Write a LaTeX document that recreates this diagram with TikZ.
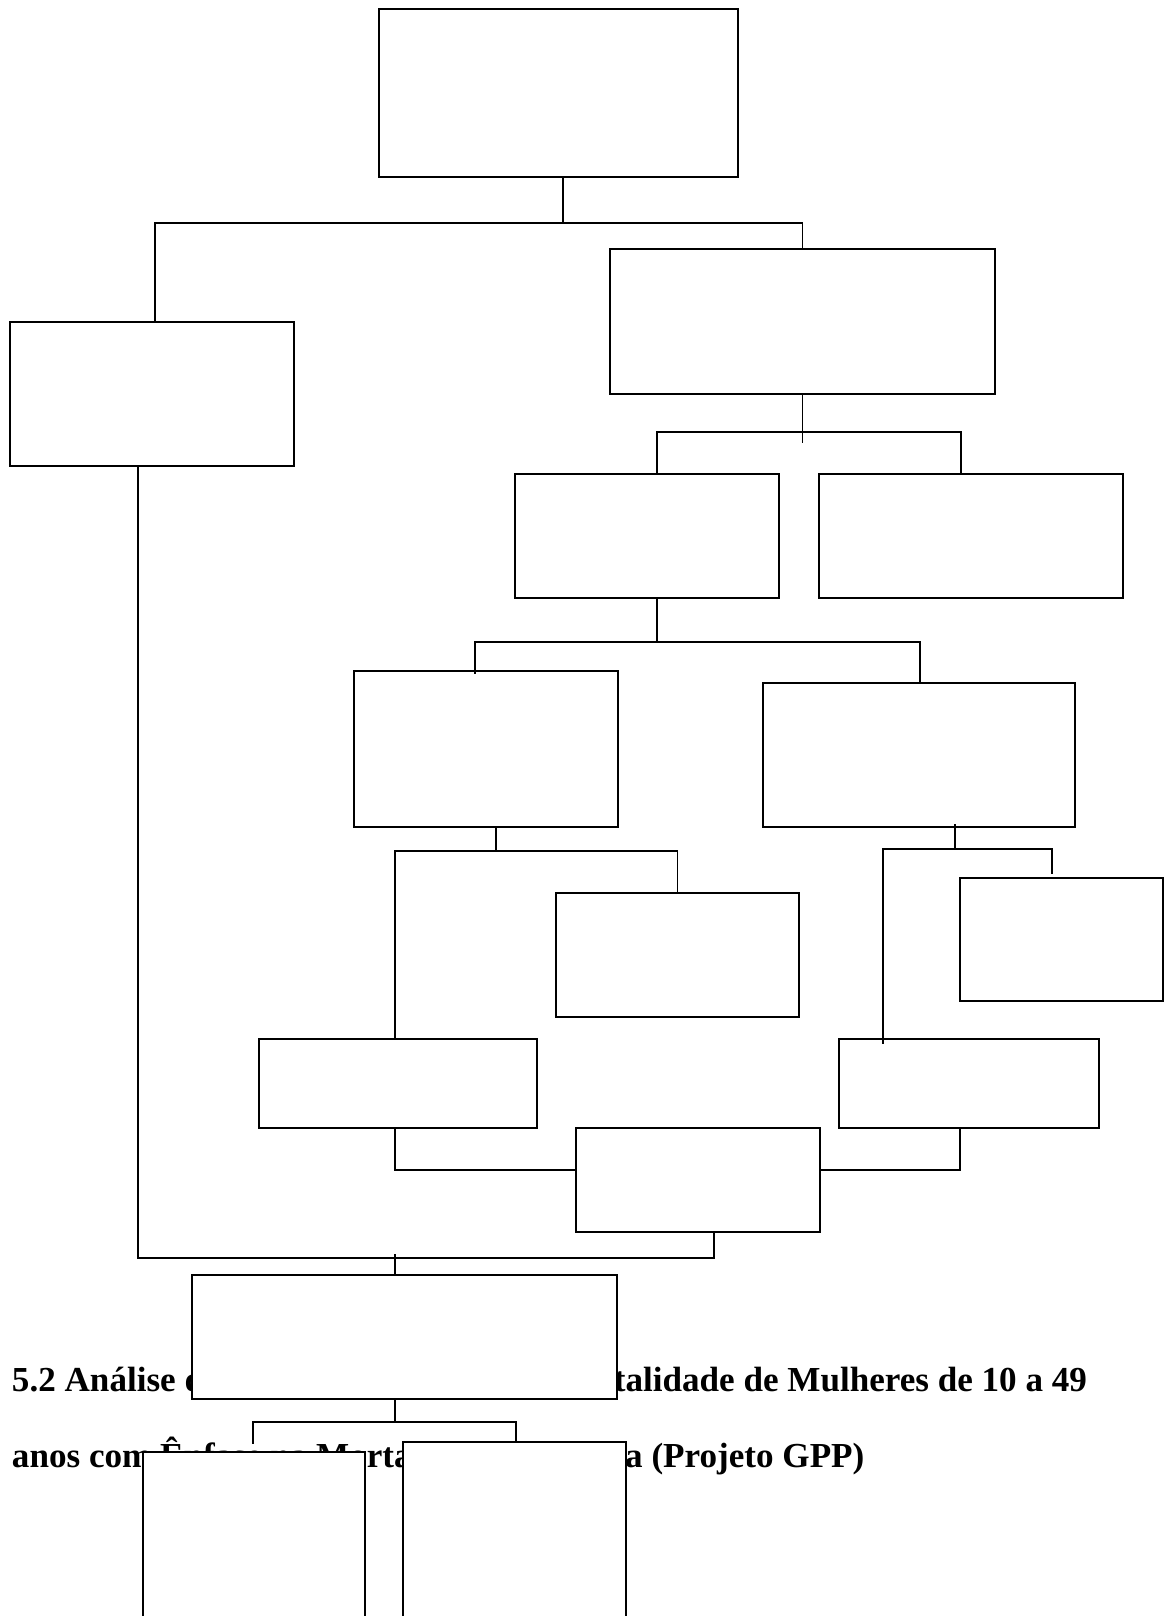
\documentclass[tikz,border=0pt]{standalone}
\usepackage{fontspec}
\setmainfont{Liberation Serif}
\begin{document}
\begin{tikzpicture}[x=1pt,y=-1pt,
  box/.style={draw, line width=1.7pt, fill=white, rectangle, inner sep=0pt, outer sep=0pt},
  conn/.style={line width=1.7pt, line cap=rect},
  txt/.style={font=\fontsize{35.1}{40}\selectfont\bfseries, inner sep=0pt, outer sep=0pt}]
\useasboundingbox (0,0) rectangle (1166,1616);
\clip (0,0) rectangle (1166,1616);
\fill[white] (0,0) rectangle (1166,1616);

% text of the page (partly hidden by boxes)
\node[txt, anchor=base west] (t1a) at (12,1391) {5.2 Análise d};
\node[txt, anchor=base east] (t1b) at (1087,1391) {rtalidade de Mulheres de 10 a 49};
\node[txt, anchor=base west] (t2) at (12,1467) {anos com Ênfase na Mortalidade Materna (Projeto GPP)};

% boxes
\node[box, minimum width=359pt, minimum height=168pt] (A) at (558.5,93) {};
\node[box, minimum width=284pt, minimum height=144pt] (B) at (152,394) {};
\node[box, minimum width=385pt, minimum height=145pt] (C) at (802.5,321.5) {};
\node[box, minimum width=264pt, minimum height=124pt] (D) at (647,536) {};
\node[box, minimum width=304pt, minimum height=124pt] (E) at (971,536) {};
\node[box, minimum width=264pt, minimum height=156pt] (F) at (486,749) {};
\node[box, minimum width=312pt, minimum height=144pt] (G) at (919,755) {};
\node[box, minimum width=243pt, minimum height=124pt] (H) at (677.5,955) {};
\node[box, minimum width=203pt, minimum height=123pt] (I) at (1061.5,939.5) {};
\node[box, minimum width=260pt, minimum height=89pt] (J) at (969,1083.5) {};
\node[box, minimum width=278pt, minimum height=89pt] (K) at (398,1083.5) {};
\node[box, minimum width=244pt, minimum height=104pt] (L) at (698,1180) {};
\node[box, minimum width=425pt, minimum height=124pt] (M) at (404.5,1337) {};
\node[box, minimum width=222pt, minimum height=188pt] (N) at (254,1546) {};
\node[box, minimum width=223pt, minimum height=198pt] (O) at (514.5,1541) {};

% junction coordinates
\coordinate (j1) at (563,223);
\coordinate (jB) at (155,223);
\coordinate (cD) at (657,432);
\coordinate (cE) at (961,432);
\coordinate (dF) at (475,642);
\coordinate (dG) at (920,642);
\coordinate (fs) at (496,851);
\coordinate (fK) at (395,851);
\coordinate (fH) at (677.5,851);
\coordinate (gs) at (955,849);
\coordinate (gJ) at (883,849);
\coordinate (gI) at (1052,849);
\coordinate (kL) at (395,1170);
\coordinate (jL) at (960,1170);
\coordinate (mL) at (714,1258);
\coordinate (mB) at (138,1258);
\coordinate (mM) at (395,1255);
\coordinate (nm) at (395,1422);
\coordinate (nN) at (253,1422);
\coordinate (nO) at (516,1422);

% connectors
\draw[conn] (A.south -| j1) -- (j1);
\draw[conn] (jB |- B.north) -- (jB) -- (C.north |- j1) -- (C.north);

\draw[conn] (C.south) -- ++(0,48);
\draw[conn] (cD |- D.north) -- (cD) -- (cE) -- (cE |- E.north);

\draw[conn] (D.south -| cD) -- (cD |- dF);
\draw[conn] ([yshift=-2pt]dF |- F.north) -- (dF) -- (dG) -- (dG |- G.north);

\draw[conn] (fs |- F.south) -- (fs);
\draw[conn] (fK |- K.north) -- (fK) -- (fH) -- (fH |- H.north);

\draw[conn] ([yshift=2pt]gs |- G.south) -- (gs);
\draw[conn] ([yshift=-4pt]gJ |- J.north) -- (gJ) -- (gI) -- ++(0,24);

\draw[conn] (K.south -| kL) -- (kL) -- (kL -| L.west);
\draw[conn] (J.south -| jL) -- (jL) -- (jL -| L.east);

\draw[conn] (L.south -| mL) -- (mL) -- (mB) -- (mB |- B.south);
\draw[conn] (mM) -- (mM |- M.north);

\draw[conn] (M.south -| nm) -- (nm);
\draw[conn] (nN) -- ++(0,21);
\draw[conn] (nN) -- (nO) -- (nO |- O.north);
\end{tikzpicture}
\end{document}
